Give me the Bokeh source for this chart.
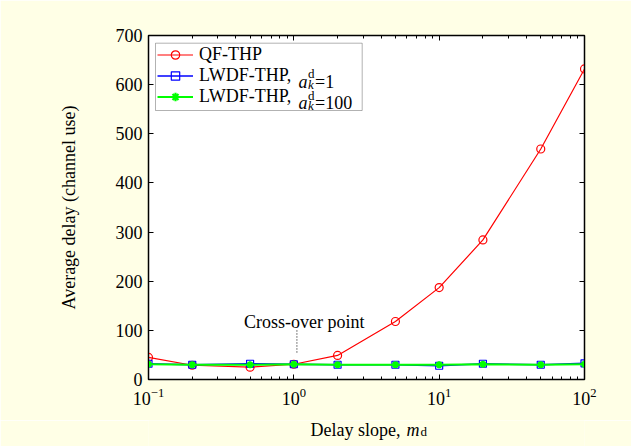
from bokeh.plotting import figure
from bokeh.layouts import column
from bokeh.models import (LogAxis, LinearAxis, FixedTicker, LogTicker, Legend, LegendItem,
                          BoxAnnotation, Label, Range1d)
from bokeh.embed import file_html
from bokeh.resources import INLINE

# ---- data ----
delay_slope = [0.1, 0.2, 0.5, 1, 2, 5, 10, 20, 50, 100]
qf_thp = [45, 29, 25, 31, 49, 118, 187, 284, 469, 632]
lwdf_a1 = [32, 30, 32, 31, 30, 30, 28, 32, 30, 33]
lwdf_a100 = [31, 30, 30, 31, 30, 30, 30, 31, 30, 31]
y_ticks = [0, 100, 200, 300, 400, 500, 600, 700]
x_ticks = [0.1, 1, 10, 100]
crossover_x = 1.05
crossover_y = [55, 103]
crossover_text = "Cross-over point"
crossover_text_pos = (1.178, 116.5)

FONT = "Liberation Serif"
CREAM = "#FFFFE6"

W, H = 631, 446
H2 = 26                      # strip below the plot that carries the x-axis title
H1 = H - H2
FL, FR, FT, FB = 148, 584, 35, 379   # frame edges in pixels
p = figure(width=W, height=H1, x_axis_type="log", output_backend="svg", toolbar_location=None,
           x_range=Range1d(0.1, 100), y_range=Range1d(0, 700),
           min_border_left=FL, min_border_right=W - FR, min_border_top=FT,
           min_border_bottom=H1 - FB,
           background_fill_color="white", border_fill_color=CREAM)
p.outline_line_color = "black"
p.outline_line_width = 1.5
p.grid.visible = False

def dx(px):
    return 10 ** ((px - FL) / ((FR - FL) / 3) - 1)
def dy(py):
    return (FB - py) * 700 / (FB - FT)

xt = LogTicker(num_minor_ticks=10)
yt = FixedTicker(ticks=y_ticks)

def style_axis(ax, labels=True):
    ax.axis_line_color = "black"
    ax.axis_line_width = 1
    ax.major_tick_in = 5
    ax.major_tick_out = 0
    ax.minor_tick_in = 3
    ax.minor_tick_out = 0
    ax.major_tick_line_color = "black"
    ax.minor_tick_line_color = "black"
    ax.major_label_text_font = FONT
    ax.major_label_text_font_size = "18px"
    ax.major_label_text_color = "black" if labels else None
    ax.axis_label_text_font = FONT
    ax.axis_label_text_font_size = "18px"
    ax.axis_label_text_font_style = "normal"
    ax.axis_label_text_color = "black"

p.xaxis.ticker = xt
p.yaxis.ticker = yt
style_axis(p.xaxis[0])
style_axis(p.yaxis[0])
p.yaxis.minor_tick_line_color = None
p.xaxis.major_label_standoff = 8
p.yaxis.major_label_standoff = 6
p.yaxis.axis_label = "Average delay (channel use)"
p.yaxis.axis_label_standoff = 34

top = LogAxis(ticker=xt)
style_axis(top, labels=False)
top.major_label_standoff = 0
p.add_layout(top, "above")
right = LinearAxis(ticker=yt)
style_axis(right, labels=False)
right.minor_tick_line_color = None
right.major_label_standoff = 0
p.add_layout(right, "right")

# ---- series ----
r1l = p.line(delay_slope, qf_thp, line_color="#FF0000", line_width=1.2)
r1m = p.scatter(delay_slope, qf_thp, marker="circle", size=8, line_color="#FF0000",
                fill_color=None, line_width=1.2)
r2l = p.line(delay_slope, lwdf_a1, line_color="#0000FF", line_width=1.5)
r2m = p.scatter(delay_slope, lwdf_a1, marker="square", size=7, line_color="#0000FF",
                fill_color=None, line_width=1.2)
r3l = p.line(delay_slope, lwdf_a100, line_color="#00FF00", line_width=2)
r3m = p.scatter(delay_slope, lwdf_a100, marker="asterisk", size=7, line_color="#00FF00",
                line_width=2.2)

# cross-over annotation
p.segment(x0=[crossover_x], y0=[crossover_y[0]], x1=[crossover_x], y1=[crossover_y[1]],
          line_color="black", line_width=1, line_dash="1 2")
p.add_layout(Label(x=crossover_text_pos[0], y=crossover_text_pos[1], text=crossover_text,
                   text_font=FONT, text_font_size="18px", text_align="center",
                   text_baseline="alphabetic", text_color="black"))

# ---- legend ----
box = BoxAnnotation(left=dx(155), right=dx(361.7), top=dy(42.7), bottom=dy(110),
                    fill_color="white", fill_alpha=1, line_color="black", line_width=1)
p.add_layout(box)
legend = Legend(items=[LegendItem(label="QF-THP", renderers=[r1l, r1m]),
                       LegendItem(label="LWDF-THP,", renderers=[r2l, r2m]),
                       LegendItem(label="LWDF-THP,", renderers=[r3l, r3m])],
                location="top_left", margin=8, padding=1, spacing=0,
                glyph_width=36, glyph_height=21, label_height=21, label_standoff=6,
                label_text_font=FONT, label_text_font_size="18px", label_text_color="black",
                border_line_alpha=0, background_fill_alpha=0)
p.add_layout(legend)

def lab(fig, x, y, text, size="18px", style="normal"):
    fig.add_layout(Label(x=x, y=y, text=text, text_font=FONT, text_font_size=size,
                         text_font_style=style, text_align="left", text_baseline="alphabetic",
                         text_color="black"))

for base, tail in ((81, "=1"), (102.5, "=100")):
    lab(p, dx(298), dy(base), "a", style="italic")
    lab(p, dx(307.5), dy(base - 8), "d", size="13px")
    lab(p, dx(307.5), dy(base + 2.5), "k", size="13px", style="italic")
    lab(p, dx(314.5), dy(base), tail)

# ---- strip carrying the x-axis title; its frame is aligned with the plot frame,
#      so the x range is the frame's pixel span and y counts down from the top ----
p2 = figure(width=W, height=H2, output_backend="svg", toolbar_location=None,
            x_range=Range1d(FL, FR), y_range=Range1d(H, H1),
            x_axis_location=None, y_axis_location=None,
            min_border_left=0, min_border_right=0, min_border_top=0, min_border_bottom=0,
            background_fill_color=CREAM, border_fill_color=CREAM)
p2.outline_line_color = None
p2.grid.visible = False
lab(p2, 310, 429, "Delay slope, ")
lab(p2, 406, 429, "m", style="italic")
lab(p2, 420, 431, "d", size="13px")

layout = column(p, p2, spacing=0)
open("out.html", "w").write(file_html(layout, INLINE))
